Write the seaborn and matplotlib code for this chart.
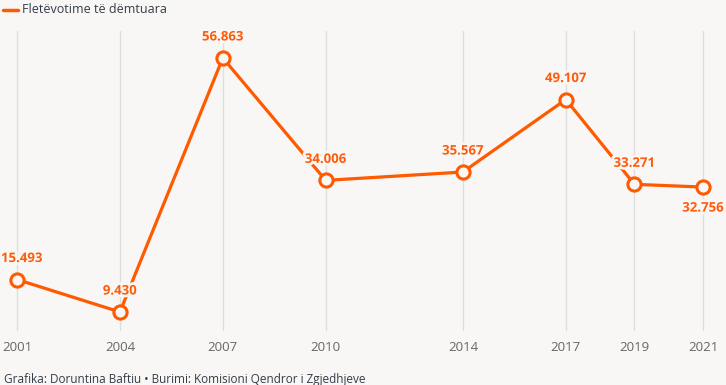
import matplotlib
matplotlib.use("Agg")
import matplotlib.pyplot as plt
import matplotlib.patheffects as pe
import pandas as pd
import seaborn as sns

# Data
years = [2001, 2004, 2007, 2010, 2014, 2017, 2019, 2021]
damaged_ballots = [15493, 9430, 56863, 34006, 35567, 49107, 33271, 32756]
label_below = [False, False, False, False, False, False, False, True]

SERIES_NAME = "Fletëvotime të dëmtuara"
FOOTER = "Grafika: Doruntina Baftiu • Burimi: Komisioni Qendror i Zgjedhjeve"

BG = "#f8f7f5"
ORANGE = "#ff5a00"
LABEL_ORANGE = "#ff5c0a"


def fmt(v):
    return f"{v:,}".replace(",", ".")


def main():
    sns.set_theme(style="white")
    plt.rcParams["font.family"] = ["Open Sans", "DejaVu Sans"]

    df = pd.DataFrame({"year": years, "value": damaged_ballots})

    fig = plt.figure(figsize=(7.26, 3.85), dpi=100)
    fig.patch.set_facecolor(BG)
    ax = fig.add_axes([0, 1 - 331 / 385, 1, 300 / 385])
    ax.set_facecolor(BG)

    sns.lineplot(data=df, x="year", y="value", ax=ax, color=ORANGE, linewidth=2.3,
                 marker="o", markersize=9.5, markerfacecolor=BG,
                 markeredgecolor=ORANGE, markeredgewidth=2.2, zorder=3)

    ax.set_xlim(2000.504, 2021.67)
    ax.set_ylim(5880, 61900)

    for x in years:
        ax.axvline(x, color="#dedede", linewidth=1, zorder=1)

    # value labels with a background halo
    for i, (x, v, below) in enumerate(zip(years, damaged_ballots, label_below)):
        dy = -21 if below else 21
        if i == 0:
            # keep the first label inside the left edge
            xy_off, ha = (-16, dy), "left"
        else:
            xy_off, ha = (0, dy), "center"
        ax.annotate(fmt(v), (x, v), xytext=xy_off, textcoords="offset pixels",
                    ha=ha, va="center", fontsize=9.5, fontweight="bold", color=LABEL_ORANGE,
                    zorder=4, annotation_clip=False,
                    path_effects=[pe.withStroke(linewidth=4, foreground=BG)])

    ax.set_xticks(years)
    ax.set_xticklabels([str(y) for y in years], fontsize=9.5, color="#666666")
    ax.tick_params(axis="x", length=0, pad=7)
    ax.set_yticks([])
    ax.set_xlabel("")
    ax.set_ylabel("")
    for s in ax.spines.values():
        s.set_visible(False)

    # legend
    fig.add_artist(plt.Line2D([3 / 726, 18 / 726], [1 - 9.5 / 385] * 2, color=ORANGE, linewidth=2.5))
    fig.text(22 / 726, 1 - 9.5 / 385, SERIES_NAME, fontsize=9, color="#333d47", va="center", ha="left")

    fig.text(4 / 726, 1 - 379 / 385, FOOTER, fontsize=8.5, color="#333d47", va="center", ha="left")

    fig.savefig("out.png", dpi=100, facecolor=BG)


if __name__ == "__main__":
    main()
